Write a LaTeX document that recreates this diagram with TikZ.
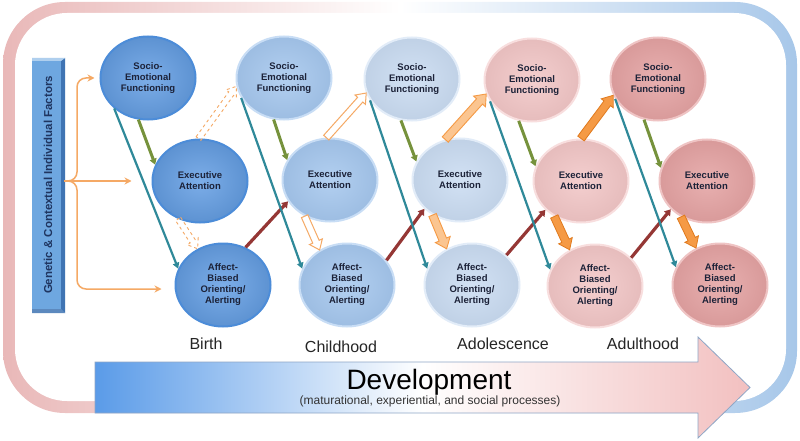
\documentclass[tikz,border=0pt]{standalone}
\usepackage{fontspec}
\setmainfont{Liberation Sans}
\usetikzlibrary{shapes.geometric,arrows.meta,calc}

\definecolor{frameL}{HTML}{E9B8B8}
\definecolor{frameR}{HTML}{A7C7E9}
\definecolor{devL}{HTML}{5A9BE8}
\definecolor{devR}{HTML}{F2C0C0}
\definecolor{devEdge}{HTML}{8EA6C6}
\definecolor{barFill}{HTML}{6EA7E0}
\definecolor{barDark}{HTML}{3F74B3}
\definecolor{barText}{HTML}{1F3560}
\definecolor{nodeText}{HTML}{1C2238}
\definecolor{cAf}{HTML}{659FE4}\definecolor{cAe}{HTML}{4C8CD8}
\definecolor{cBf}{HTML}{A5C7EE}\definecolor{cBe}{HTML}{C8DDF5}
\definecolor{cCf}{HTML}{CADCF2}\definecolor{cCe}{HTML}{E2ECF8}
\definecolor{cDf}{HTML}{F2C6C6}\definecolor{cDe}{HTML}{F8DEDE}
\definecolor{cEf}{HTML}{E4A2A2}\definecolor{cEe}{HTML}{EFC4C4}
\definecolor{tealA}{HTML}{2F8999}
\definecolor{greenA}{HTML}{76923C}
\definecolor{redA}{HTML}{953735}
\definecolor{orA}{HTML}{F59A45}
\definecolor{orDark}{HTML}{E07A1E}
\definecolor{orLight}{HTML}{FBC590}
\definecolor{orLine}{HTML}{F5A965}

\newcommand{\nodefnt}{\fontsize{9.5}{11}\selectfont\bfseries}
% #1 style, #2 from, #3 to, #4 half width, #5 head half width, #6 head length
\newcommand{\blockarrow}[6]{%
  \coordinate (bahead) at ($(#3)!#6!(#2)$);
  \path[#1] ($(#2)!#4!90:(#3)$) -- ($(bahead)!#4!90:(#3)$) -- ($(bahead)!#5!90:(#3)$) -- (#3)
    -- ($(bahead)!#5!-90:(#3)$) -- ($(bahead)!#4!-90:(#3)$) -- ($(#2)!#4!-90:(#3)$) -- cycle;
}

\begin{document}
\begin{tikzpicture}[x=1pt,y=-1pt,
  circ/.style={ellipse, minimum width=95pt, minimum height=83pt, inner sep=0pt, align=center,
    text=nodeText, font=\nodefnt, line width=2pt},
  colA/.style={circ, shade, inner color=cAf!85!white, outer color=cAf!92!black, draw=cAe},
  colB/.style={circ, shade, inner color=cBf!85!white, outer color=cBf!95!black, draw=cBe},
  colC/.style={circ, shade, inner color=cCf!85!white, outer color=cCf!95!black, draw=cCe},
  colD/.style={circ, shade, inner color=cDf!85!white, outer color=cDf!95!black, draw=cDe},
  colE/.style={circ, shade, inner color=cEf!85!white, outer color=cEf!95!black, draw=cEe},
  stage/.style={anchor=base, font=\fontsize{16}{18}\selectfont, text=black!85},
  brace/.style={draw=orLine, line width=1.5pt, -{Stealth[length=7pt,width=7pt]}},
  tealArr/.style={draw=tealA, line width=2.2pt, -{Triangle[length=6pt,width=6.5pt]}},
  greenArr/.style={draw=greenA, line width=3pt, -{Triangle[length=6pt,width=7pt]}},
  redArr/.style={draw=redA, line width=3.2pt, -{Triangle[length=6pt,width=7.5pt]}},
  dashA/.style={draw=orLine, dashed, line width=0.9pt},
  hollowA/.style={draw=orLine, fill=white, line width=1pt},
  lightA/.style={draw=orA, fill=orLight, line width=0.9pt},
  solidA/.style={draw=orDark, fill=orA, line width=0.8pt}]
\useasboundingbox (0,0) rectangle (800,441);

% frame
\shade[left color=frameL, right color=frameR, middle color=white, rounded corners=62pt] (3,2) rectangle (797,413);
\fill[white, rounded corners=52pt] (15,13) rectangle (786,401);

% development arrow
\shadedraw[left color=devL, right color=devR, middle color=white, draw=devEdge, line width=0.8pt]
  (95,362) -- (698,362) -- (698,337) -- (750,387.5) -- (698,438) -- (698,413) -- (95,413) -- cycle;
\node[anchor=base, font=\fontsize{28}{30}\selectfont, text=black] (dev) at (429,389) {Development};
\node[anchor=base, font=\fontsize{12}{14}\selectfont, text=black!80] (devsub) at (430,404) {(maturational, experiential, and social processes)};

% factor bar
\node[rotate=90, fill=barFill, minimum width=254pt, minimum height=32pt, inner sep=0pt,
  font=\fontsize{11.5}{13}\selectfont\bfseries, text=barText] (bar) at (48,185) {Genetic \& Contextual Individual Factors};
\fill[barDark] (61,61) -- (65,58) -- (65,313) -- (61,309) -- cycle;
\fill[barDark!85] (32,309) -- (61,309) -- (65,313) -- (32,313) -- cycle;
\fill[barFill!55!white] (32,58) -- (65,58) -- (61,61) -- (32,61) -- cycle;

% circles
\node[colA] (SE1) at (148,78) {Socio-\\Emotional\\Functioning};
\node[colB] (SE2) at (284,78) {Socio-\\Emotional\\Functioning};
\node[colC] (SE3) at (412,79) {Socio-\\Emotional\\Functioning};
\node[colD] (SE4) at (532,80) {Socio-\\Emotional\\Functioning};
\node[colE] (SE5) at (658,79) {Socio-\\Emotional\\Functioning};
\node[colA] (EA1) at (200,181) {Executive\\Attention};
\node[colB] (EA2) at (330,180) {Executive\\Attention};
\node[colC] (EA3) at (460,180) {Executive\\Attention};
\node[colD] (EA4) at (581,181) {Executive\\Attention};
\node[colE] (EA5) at (707,181) {Executive\\Attention};
\node[colA] (AB1) at (223,285) {Affect-\\Biased\\Orienting/\\Alerting};
\node[colB] (AB2) at (347,285) {Affect-\\Biased\\Orienting/\\Alerting};
\node[colC] (AB3) at (472,285) {Affect-\\Biased\\Orienting/\\Alerting};
\node[colD] (AB4) at (595,286) {Affect-\\Biased\\Orienting/\\Alerting};
\node[colE] (AB5) at (720,285) {Affect-\\Biased\\Orienting/\\Alerting};

% stage labels
\node[stage] (birth) at (206,349) {Birth};
\node[stage] (child) at (341,352) {Childhood};
\node[stage] (adol) at (503,349) {Adolescence};
\node[stage] (adult) at (643,349) {Adulthood};

% brace arrows from factor bar
\draw[brace, rounded corners=9pt] ($(bar.south)+(0,-4)$) -| (77,78) -- ($(SE1.west)+(-5,0)$);
\draw[brace] ($(bar.south)+(0,-4)$) -- ($(EA1.west)+(-20,0)$);
\draw[brace, rounded corners=9pt] ($(bar.south)+(0,-4)$) -| (77,289) -- ($(AB1.west)+(-13,4)$);

% orange block arrows
\blockarrow{dashA}{EA1.92}{SE2.190}{3pt}{6.5pt}{9pt}
\blockarrow{dashA}{EA1.240}{AB1.125}{3pt}{6.5pt}{9pt}
\blockarrow{hollowA}{EA2.95}{SE3.197}{3.5pt}{7pt}{9pt}
\blockarrow{hollowA}{EA2.235}{AB2.128}{3.5pt}{7pt}{9pt}
\blockarrow{lightA}{EA3.110}{SE4.197}{4pt}{8pt}{10pt}
\blockarrow{lightA}{EA3.232}{AB3.125}{4pt}{8pt}{10pt}
\blockarrow{solidA}{EA4.90}{SE5.200}{4pt}{7.5pt}{10pt}
\blockarrow{solidA}{EA4.233}{AB4.125}{4pt}{7.5pt}{10pt}
\blockarrow{solidA}{EA5.234}{AB5.123}{4pt}{7.5pt}{10pt}

% red arrows
\draw[redArr] (AB1.59) -- (EA2.207);
\draw[redArr] (AB2.32) -- (EA3.219);
\draw[redArr] (AB3.41) -- (EA4.219);
\draw[redArr] (AB4.38) -- (EA5.218);

% green arrows
\draw[greenArr] (SE1.257) -- (EA1.160);
\draw[greenArr] (SE2.256) -- (EA2.155);
\draw[greenArr] (SE3.255) -- (EA3.157);
\draw[greenArr] (SE4.252) -- (EA4.162);
\draw[greenArr] (SE5.251) -- (EA5.164);

% teal arrows
\draw[tealArr] (SE1.222) -- (AB1.160);
\draw[tealArr] (SE2.205) -- (AB2.160);
\draw[tealArr] (SE3.207) -- (AB3.160);
\draw[tealArr] (SE4.207) -- (AB4.160);
\draw[tealArr] (SE5.205) -- (AB5.158);
\end{tikzpicture}
\end{document}
